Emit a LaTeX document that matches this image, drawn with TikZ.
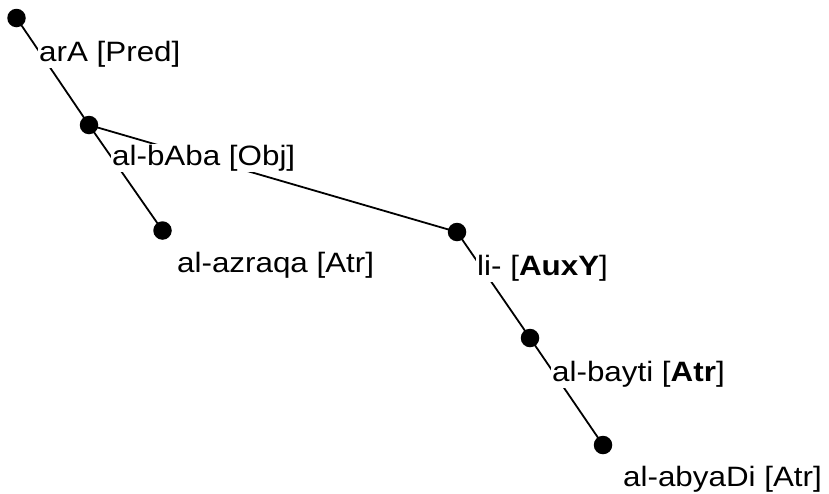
\documentclass[tikz,border=0pt]{standalone}
\usepackage{fontspec}
\setmainfont{Liberation Sans}[FakeStretch=1.12]
\usetikzlibrary{backgrounds}
\begin{document}
\begin{tikzpicture}[x=1pt,y=-1pt,
  dotnode/.style={circle,fill=black,inner sep=0pt,minimum size=18.5pt},
  lbl/.style={anchor=base west,fill=white,inner sep=1pt,font=\fontsize{28}{30}\selectfont},
  edgeline/.style={line width=1.8pt,black}]
\useasboundingbox (0,0) rectangle (829,493);
% dots
\node[dotnode] (r)  at (16.5,18) {};
\node[dotnode] (b)  at (89,125) {};
\node[dotnode] (z)  at (162.5,230.5) {};
\node[dotnode] (l)  at (457,232) {};
\node[dotnode] (y)  at (530,338) {};
\node[dotnode] (d)  at (603,445) {};
% labels
\node[lbl] (rl) at (38,61)   {arA [Pred]};
\node[lbl] (bl) at (111,165) {al-bAba [Obj]};
\node[lbl] (zl) at (176,272) {al-azraqa [Atr]};
\node[lbl] (ll) at (476,275) {li- [\textbf{AuxY}]};
\node[lbl] (yl) at (551,381) {al-bayti [\textbf{Atr}]};
\node[lbl] (dl) at (622,486) {al-abyaDi [Atr]};
% edges
\begin{pgfonlayer}{background}
\draw[edgeline] (r.center) -- (b.center);
\draw[edgeline] (b.center) -- (z.center);
\draw[edgeline] (b.center) -- (l.center);
\draw[edgeline] (l.center) -- (y.center);
\draw[edgeline] (y.center) -- (d.center);
\end{pgfonlayer}
\end{tikzpicture}
\end{document}
